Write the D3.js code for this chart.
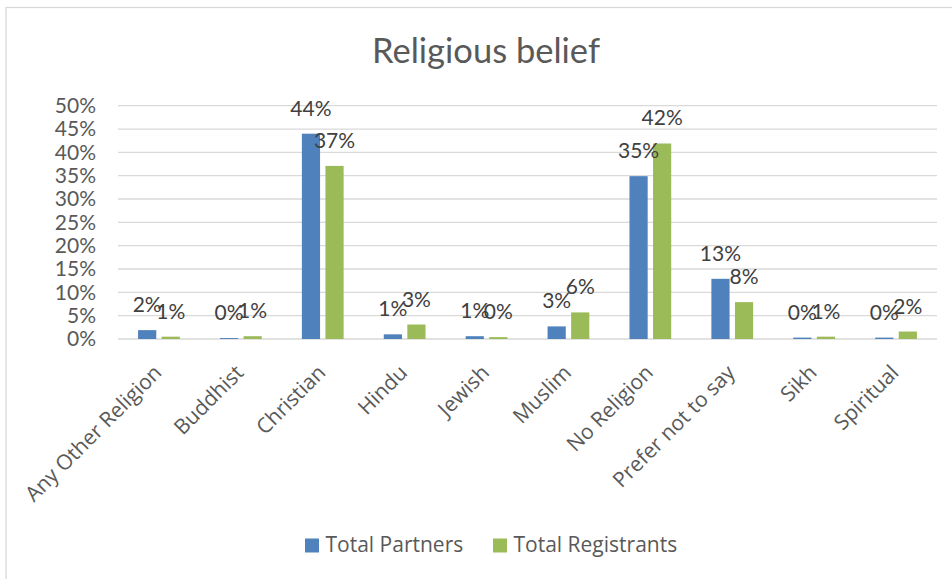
<!DOCTYPE html>
<html>
<head>
<meta charset="utf-8">
<script src="https://cdn.jsdelivr.net/npm/d3@7"></script>
<style>
  html, body { margin: 0; padding: 0; background: #fff; }
  svg { display: block; }
</style>
</head>
<body>
<svg id="chart" width="952" height="579"></svg>
<script>
// Religious belief: share of partners vs registrants (percent)
const categories = ["Any Other Religion", "Buddhist", "Christian", "Hindu", "Jewish",
                    "Muslim", "No Religion", "Prefer not to say", "Sikh", "Spiritual"];
const seriesNames = ["Total Partners", "Total Registrants"];
const partners    = [1.9, 0.2, 44.0, 1.0, 0.6, 2.7, 34.9, 12.9, 0.3, 0.3];
const registrants = [0.5, 0.6, 37.1, 3.1, 0.4, 5.7, 41.9, 7.9, 0.5, 1.6];
const yTicks = [0, 5, 10, 15, 20, 25, 30, 35, 40, 45, 50];
const colors = ["#4f81bd", "#9bbb59"];

const svg = d3.select("#chart");
const W = 952, H = 579;
const plot = { left: 118, right: 937, top: 105.7, bottom: 339 };

// chart area frame (top and left edges visible)
svg.append("rect")
  .attr("x", 6).attr("y", 7.5)
  .attr("width", W).attr("height", H)
  .attr("fill", "#fff").attr("stroke", "#d9d9d9").attr("stroke-width", 1.3);

// title
svg.append("text")
  .attr("x", 486).attr("y", 62.5)
  .attr("text-anchor", "middle")
  .attr("font-family", "Lato, 'Open Sans', sans-serif")
  .attr("font-size", 34.5)
  .attr("fill", "#595959")
  .text("Religious belief");

const x0 = d3.scaleBand().domain(categories).range([plot.left, plot.right]).padding(0);
const x1 = d3.scaleBand().domain(seriesNames).range([0, x0.bandwidth()])
  .paddingInner(0.228).paddingOuter(0.852);
const y = d3.scaleLinear().domain([0, 50]).range([plot.bottom, plot.top]);

// gridlines
svg.append("g")
  .selectAll("line").data(yTicks).join("line")
  .attr("x1", plot.left).attr("x2", plot.right)
  .attr("y1", d => y(d)).attr("y2", d => y(d))
  .attr("stroke", "#d9d9d9").attr("stroke-width", 1.3);

// y axis labels
const yAxis = d3.axisLeft(y).tickValues(yTicks).tickFormat(d => d + "%").tickSize(0).tickPadding(0);
const gy = svg.append("g").attr("transform", `translate(${plot.left - 22},0)`).call(yAxis);
gy.select(".domain").remove();
gy.selectAll("text")
  .attr("font-family", "Lato, 'Open Sans', sans-serif")
  .attr("font-size", 21)
  .attr("fill", "#595959");

// bars
const rows = categories.map((c, i) => ({ cat: c, vals: [partners[i], registrants[i]] }));
const groups = svg.append("g").selectAll("g").data(rows).join("g")
  .attr("transform", d => `translate(${x0(d.cat)},0)`);

groups.selectAll("rect")
  .data(d => d.vals.map((v, k) => ({ v, k })))
  .join("rect")
  .attr("x", d => x1(seriesNames[d.k]))
  .attr("width", x1.bandwidth())
  .attr("y", d => y(d.v))
  .attr("height", d => y(0) - y(d.v))
  .attr("fill", d => colors[d.k]);

// data labels (rounded to whole percent)
groups.selectAll("text")
  .data(d => d.vals.map((v, k) => ({ v, k })))
  .join("text")
  .attr("x", d => x1(seriesNames[d.k]) + x1.bandwidth() / 2)
  .attr("y", d => y(d.v) - 18)
  .attr("text-anchor", "middle")
  .attr("font-family", "Lato, 'Open Sans', sans-serif")
  .attr("font-size", 21)
  .attr("fill", "#404040")
  .text(d => Math.round(d.v) + "%");

// x axis category labels, rotated
const xAxis = d3.axisBottom(x0).tickSize(0).tickPadding(0);
const gx = svg.append("g").attr("transform", `translate(0,${plot.bottom})`).call(xAxis);
gx.select(".domain").remove();
gx.selectAll(".tick text")
  .attr("font-family", "'Open Sans', sans-serif")
  .attr("font-size", 21)
  .attr("fill", "#595959")
  .attr("text-anchor", "end")
  .attr("dy", 0)
  .attr("y", 0)
  .attr("transform", "translate(4,35) rotate(-45)");

// legend
const legend = svg.append("g");
const legendItems = [
  { name: seriesNames[0], color: colors[0], x: 305 },
  { name: seriesNames[1], color: colors[1], x: 493 }
];
const li = legend.selectAll("g").data(legendItems).join("g")
  .attr("transform", d => `translate(${d.x},538.5)`);
li.append("rect").attr("width", 14).attr("height", 14).attr("fill", d => d.color);
li.append("text")
  .attr("x", 20.5).attr("y", 13.5)
  .attr("font-family", "'Open Sans', sans-serif")
  .attr("font-size", 21)
  .attr("fill", "#595959")
  .text(d => d.name);
</script>
</body>
</html>
